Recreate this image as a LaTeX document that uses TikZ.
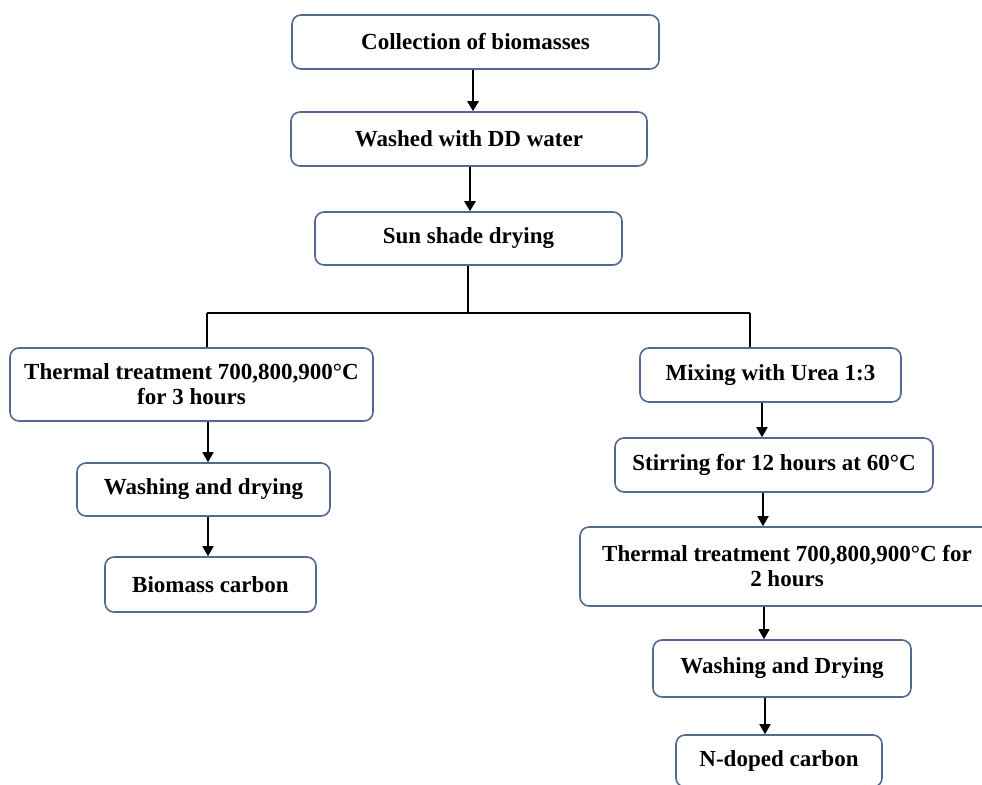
\documentclass[tikz,border=0pt]{standalone}
\usepackage{fontspec}
\setmainfont{Liberation Serif}
\usetikzlibrary{arrows.meta}
\definecolor{boxline}{RGB}{84,104,148}
\tikzset{
  stepbox/.style={draw=boxline, line width=1.6pt, rounded corners=9pt, fill=white,
    font=\fontsize{23}{25}\selectfont\bfseries, align=center, inner sep=0pt, anchor=center},
  thickarrow/.style={draw=black, line width=2.6pt, -{Triangle[length=10pt,width=11pt]}},
  thinarrow/.style={draw=black, line width=1.7pt, -{Triangle[length=10pt,width=11pt]}},
  treeline/.style={draw=black, line width=2.8pt}
}
\begin{document}
\begin{tikzpicture}[x=1pt,y=-1pt]
\useasboundingbox (0,0) rectangle (982,784);
\clip (0,0) rectangle (982,784);
% top chain
\node[stepbox, minimum width=367pt, minimum height=54pt] (b1) at (475.5,42) {Collection of biomasses};
\node[stepbox, minimum width=356pt, minimum height=54pt] (b2) at (469,139) {Washed with DD water};
\node[stepbox, minimum width=307pt, minimum height=53pt] (b3) at (468.5,238.5) {Sun shade drying};
% left branch
\node[stepbox, minimum width=363pt, minimum height=73pt] (l1) at (191.5,384.5) {Thermal treatment 700,800,900°C\\ for 3 hours};
\node[stepbox, minimum width=253pt, minimum height=53pt] (l2) at (203.5,489.5) {Washing and drying};
\node[stepbox, minimum width=211pt, minimum height=55pt] (l3) at (210.5,584.5) {Biomass carbon};
% right branch
\node[stepbox, minimum width=261pt, minimum height=54pt] (r1) at (770.5,375) {Mixing with Urea 1:3};
\node[stepbox, minimum width=318pt, minimum height=54pt] (r2) at (774,465) {Stirring for 12 hours at 60°C};
\node[stepbox, minimum width=414pt, minimum height=79pt] (r3) at (787,566.5) {Thermal treatment 700,800,900°C for\\ 2 hours};
\node[stepbox, minimum width=258pt, minimum height=57pt] (r4) at (782,668.5) {Washing and Drying};
\node[stepbox, minimum width=206pt, minimum height=52pt] (r5) at (779,761) {N-doped carbon};
% coordinates for tree
\coordinate (j) at (468,313);
\coordinate (jl) at (207,313);
\coordinate (jr) at (750,313);
% connectors
\draw[thickarrow] (b1.south -| 473,0) -- (b2.north -| 473,0);
\draw[thickarrow] (b2.south -| 470,0) -- (b3.north -| 470,0);
\draw[treeline] (b3.south -| j) -- (j);
\draw[treeline] (jl) -- (jr);
\draw[treeline] (jl) -- (l1.north -| jl);
\draw[treeline] (jr) -- (r1.north -| jr);
\draw[thinarrow] (l1.south -| 208,0) -- (l2.north -| 208,0);
\draw[thinarrow] (l2.south -| 208,0) -- (l3.north -| 208,0);
\draw[thinarrow] (r1.south -| 762,0) -- (r2.north -| 762,0);
\draw[thinarrow] (r2.south -| 763,0) -- (r3.north -| 763,0);
\draw[thinarrow] (r3.south -| 764,0) -- (r4.north -| 764,0);
\draw[thinarrow] (r4.south -| 765,0) -- (r5.north -| 765,0);
\end{tikzpicture}
\end{document}
